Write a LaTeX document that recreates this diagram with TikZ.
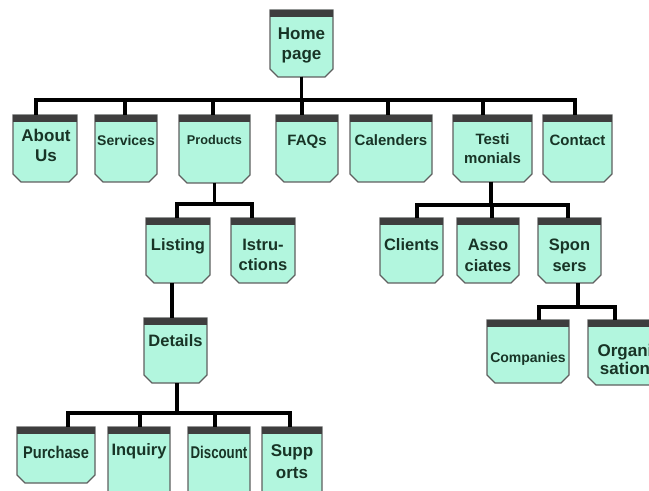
\documentclass[tikz,border=0pt]{standalone}
\usepackage{graphicx}
\usepackage{fontspec}
\setmainfont{Liberation Sans}
\usetikzlibrary{calc}

\definecolor{mint}{RGB}{178,246,222}
\definecolor{edgegray}{RGB}{95,95,95}
\definecolor{capgray}{RGB}{62,62,62}
\definecolor{ink}{RGB}{24,52,38}

\tikzset{
  link/.style={line width=2.3pt, black, line join=miter},
  hook/.style={inner sep=0pt, outer sep=0pt, draw=none},
  lbl/.style={inner sep=0pt, text=ink, align=center, anchor=base},
}

% page box: name, left, right, top, bottom (pixel units, y downwards)
\newcommand\pagebox[5]{%
  \filldraw[fill=mint, draw=edgegray, line width=0.9pt]
    (#2,#4) -- (#3,#4) -- (#3,#5-8) -- (#3-8,#5) -- (#2+8,#5) -- (#2,#5-8) -- cycle;
  \fill[capgray] (#2,#4) rectangle (#3,#4+7);
  \node[hook, minimum width={(#3-#2)*0.75pt}, minimum height={(#5-#4)*0.75pt},
        anchor=north west] (#1) at (#2,#4) {};
}
% label: name, centre x, last-line centre y, size px, line skip px, text
\newcommand\pagelabel[6]{%
  \pgfmathsetmacro\lblsize{#4*0.75}%
  \pgfmathsetmacro\lblskip{#5*0.75}%
  \node[lbl, font=\fontsize{\lblsize pt}{\lblskip pt}\selectfont\bfseries]
    (#1) at (#2,#3+0.358*#4) {#6};
}

\begin{document}
\begin{tikzpicture}[x=0.75pt, y=-0.75pt]
  \useasboundingbox (0,0) rectangle (649,491);
  \clip (0,0) rectangle (649,491);

  % boxes
  \pagebox{home}{270}{333}{10}{77}
  \pagebox{about}{13}{77}{115}{182}
  \pagebox{services}{95}{157}{115}{182}
  \pagebox{products}{179}{250}{115}{183}
  \pagebox{faqs}{276}{338}{115}{182}
  \pagebox{calenders}{350}{432}{115}{182}
  \pagebox{testi}{453}{532}{115}{182}
  \pagebox{contact}{543}{612}{115}{182}
  \pagebox{listing}{146}{210}{218}{283}
  \pagebox{istru}{231}{295}{218}{283}
  \pagebox{clients}{380}{443}{218}{283}
  \pagebox{assoc}{457}{519}{218}{283}
  \pagebox{sponsers}{538}{601}{218}{283}
  \pagebox{details}{144}{207}{318}{383}
  \pagebox{companies}{487}{569}{320}{383}
  \pagebox{organi}{588}{662}{320}{385}
  \pagebox{purchase}{17}{95}{427}{483}
  \pagebox{inquiry}{108}{170}{427}{500}
  \pagebox{discount}{188}{250}{427}{500}
  \pagebox{supports}{262}{322}{427}{500}

  % labels
  \pagelabel{home-t}{301.5}{53}{17}{20}{Home\\page}
  \pagelabel{about-t}{46}{155}{17}{20}{About\\Us}
  \pagelabel{services-t}{126}{140}{14}{18}{Services}
  \pagelabel{products-t}{214.5}{140}{12.7}{16}{Products}
  \pagelabel{faqs-t}{307}{140}{15}{18}{FAQs}
  \pagelabel{calenders-t}{391}{140}{15}{18}{Calenders}
  \pagelabel{testi-t}{492.5}{158}{15}{18.5}{Testi\\monials}
  \pagelabel{contact-t}{577.5}{140}{15}{18}{Contact}
  \pagelabel{listing-t}{178}{245}{16.5}{20}{Listing}
  \pagelabel{istru-t}{263}{265}{16.5}{20.5}{Istru-\\ctions}
  \pagelabel{clients-t}{411.5}{245}{16.5}{20}{Clients}
  \pagelabel{assoc-t}{488}{266}{16.5}{21}{Asso\\ciates}
  \pagelabel{sponsers-t}{569.5}{266}{16.5}{21}{Spon\\sers}
  \pagelabel{details-t}{175.5}{341}{16.5}{20}{Details}
  \pagelabel{companies-t}{528}{357}{14}{18}{Companies}
  \pagelabel{organi-t}{625}{368}{17}{18}{Organi\\sation}
  \pagelabel{purchase-t}{56}{452}{17}{20}{\scalebox{0.86}[1]{Purchase}}
  \pagelabel{inquiry-t}{139}{450}{16.5}{20}{Inquiry}
  \pagelabel{discount-t}{219}{452}{17}{20}{\scalebox{0.78}[1]{Discount}}
  \pagelabel{supports-t}{292}{472}{17}{22}{Supp\\orts}

  % home page to the first level
  \draw[link] (home.south) -- ++(0,23) -| ($(about.north)+(-9,0)$);
  \draw[link] (home.south) -- ++(0,23) -| ($(services.north)+(-1,0)$);
  \draw[link] (home.south) -- ++(0,23) -| ($(products.north)+(-1.5,0)$);
  \draw[link] (home.south) -- ++(0,23) -| ($(faqs.north)+(-5,0)$);
  \draw[link] (home.south) -- ++(0,23) -| ($(calenders.north)+(-3,0)$);
  \draw[link] (home.south) -- ++(0,23) -| ($(testi.north)+(-9.5,0)$);
  \draw[link] (home.south) -- ++(0,23) -| ($(contact.north)+(-2.5,0)$);

  % products branch
  \draw[link] (products.south) -- ++(0,21) -| ($(listing.north)+(-1,0)$);
  \draw[link] (products.south) -- ++(0,21) -| ($(istru.north)+(-11,0)$);
  \draw[link] ($(listing.south)+(-6,0)$) coordinate (lk) -- (lk |- details.north);
  \draw[link] ($(details.south)+(1.5,0)$) -- ++(0,30) -| ($(purchase.north)+(12,0)$);
  \draw[link] ($(details.south)+(1.5,0)$) -- ++(0,30) -| ($(inquiry.north)+(1,0)$);
  \draw[link] ($(details.south)+(1.5,0)$) -- ++(0,30) -| ($(discount.north)+(-4,0)$);
  \draw[link] ($(details.south)+(1.5,0)$) -- ++(0,30) -| ($(supports.north)+(-2,0)$);

  % testimonials branch
  \draw[link] ($(testi.south)+(-1.5,0)$) -- ++(0,23) -| ($(clients.north)+(5.5,0)$);
  \draw[link] ($(testi.south)+(-1.5,0)$) -- ++(0,23) -| ($(assoc.north)+(4,0)$);
  \draw[link] ($(testi.south)+(-1.5,0)$) -- ++(0,23) -| ($(sponsers.north)+(-1.5,0)$);
  \draw[link] ($(sponsers.south)+(8.5,0)$) -- ++(0,24) -| ($(companies.north)+(11,0)$);
  \draw[link] ($(sponsers.south)+(8.5,0)$) -- ++(0,24) -| ($(organi.north)+(-10,0)$);
\end{tikzpicture}
\end{document}
